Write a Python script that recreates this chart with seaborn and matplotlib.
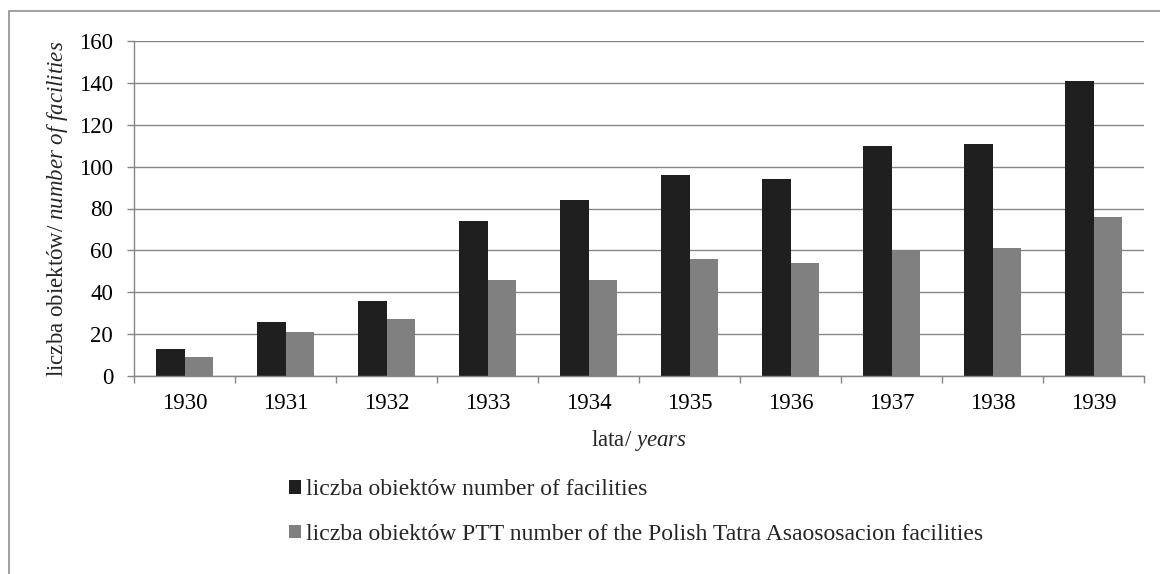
import pandas as pd
import matplotlib.pyplot as plt
import matplotlib.patches as mpatches
import seaborn as sns

# === Data ===
years = ["1930", "1931", "1932", "1933", "1934", "1935", "1936", "1937", "1938", "1939"]
all_facilities = [13, 26, 36, 74, 84, 96, 94, 110, 111, 141]
ptt_facilities = [9, 21, 27, 46, 46, 56, 54, 60, 61, 76]
series_names = [
    "liczba obiektów number of facilities",
    "liczba obiektów PTT number of the Polish Tatra Asaososacion facilities",
]

df = pd.DataFrame({"Year": years, series_names[0]: all_facilities, series_names[1]: ptt_facilities})
df_long = df.melt(id_vars="Year", var_name="Series", value_name="Value")

# === Style ===
sns.set_theme(style="white")
plt.rcParams["font.family"] = ["Liberation Serif", "DejaVu Serif"]
plt.rcParams["font.size"] = 16.5
plt.rcParams["mathtext.fontset"] = "custom"
plt.rcParams["mathtext.rm"] = "Liberation Serif"
plt.rcParams["mathtext.it"] = "Liberation Serif:italic"

grid_col = "#868686"
fs = 16.5

fig = plt.figure(figsize=(11.6, 5.74), dpi=100)
ax = fig.add_axes([134 / 1160, 1 - 376 / 574, (1144 - 134) / 1160, (376 - 41) / 574])

sns.barplot(
    data=df_long, x="Year", y="Value", hue="Series",
    palette=["#1f1f1f", "#808080"], width=0.56, gap=0,
    saturation=1, edgecolor="none", ax=ax,
)

ax.set_ylim(0, 160)
ax.set_xlim(-0.5, len(years) - 0.5)
ax.set_yticks(range(0, 161, 20))
ax.yaxis.grid(True, color=grid_col, linewidth=1.0)
ax.set_axisbelow(True)

for s in ["top", "right"]:
    ax.spines[s].set_visible(False)
for s in ["left", "bottom"]:
    ax.spines[s].set_color(grid_col)
    ax.spines[s].set_linewidth(1.0)

# x ticks at category boundaries (minor), labels at centers
ax.set_xticks([i - 0.5 for i in range(len(years) + 1)], minor=True)
ax.tick_params(axis="x", which="major", length=0, pad=12, labelsize=fs, colors="black")
ax.tick_params(axis="x", which="minor", direction="out", length=5, width=1.0, color=grid_col)
ax.tick_params(axis="y", which="major", direction="out", length=5, width=1.0,
               color=grid_col, pad=10, labelsize=fs, labelcolor="black")
ax.tick_params(axis="both", left=True, bottom=False)
ax.tick_params(axis="x", which="minor", bottom=True)

ax.set_xlabel(r"lata/ $\mathit{years}$", fontsize=fs)
ax.set_ylabel(r"liczba obiektów/ $\mathit{number\ of\ facilities}$", fontsize=fs)
ax.xaxis.set_label_coords(0.5, -0.155)
ax.yaxis.set_label_coords(-0.063, 0.5)

# Legend below the chart
old = ax.get_legend()
handles = old.legend_handles
labels = [t.get_text() for t in old.texts]
old.remove()
fig.legend(
    handles, labels, loc="center left",
    bbox_to_anchor=(289 / 1160, 1 - 512 / 574), bbox_transform=fig.transFigure,
    frameon=False, fontsize=17, handlelength=0.5, handleheight=0.5,
    handletextpad=0.2, labelspacing=1.0, borderpad=0, borderaxespad=0,
)

# Outer border
fig.add_artist(mpatches.Rectangle(
    (9 / 1160, -0.1), 1.2, 1 - 11 / 574 + 0.1,
    transform=fig.transFigure, fill=False, edgecolor=grid_col, linewidth=1.1,
))

plt.savefig("out.png", dpi=100)
plt.close()
